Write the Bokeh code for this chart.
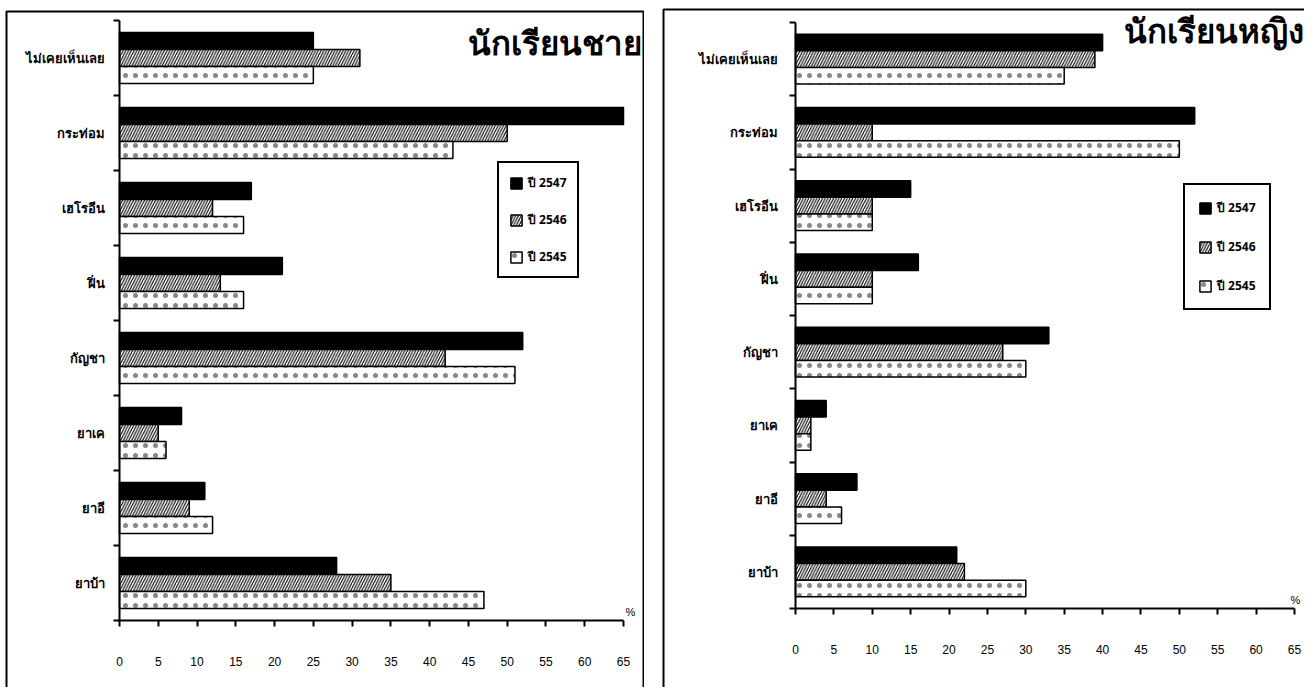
from bokeh.plotting import figure
from bokeh.models import (LinearAxis, FixedTicker, Legend, LegendItem, BoxAnnotation,
                          Label, ColumnDataSource, Range1d)
from bokeh.layouts import row
from bokeh.embed import file_html
from bokeh.resources import INLINE

# ---------------- data ----------------
categories = ["ไม่เคยเห็นเลย", "กระท่อม", "เฮโรอีน", "ฝิ่น", "กัญชา", "ยาเค", "ยาอี", "ยาบ้า"]
years = ["ปี 2547", "ปี 2546", "ปี 2545"]
male_2547 = [25, 65, 17, 21, 52, 8, 11, 28]
male_2546 = [31, 50, 12, 13, 42, 5, 9, 35]
male_2545 = [25, 43, 16, 16, 51, 6, 12, 47]
female_2547 = [40, 52, 15, 16, 33, 4, 8, 21]
female_2546 = [39, 10, 10, 10, 27, 2, 4, 22]
female_2545 = [35, 50, 10, 10, 30, 2, 6, 30]
x_ticks = [0, 5, 10, 15, 20, 25, 30, 35, 40, 45, 50, 55, 60, 65]
titles = ["นักเรียนชาย", "นักเรียนหญิง"]
unit_label = "%"

THAI = "Noto Sans"
NUM = "Liberation Sans"
H = 687


def make_panel(width, x0px, pxu, top_px, axis_px, title, title_xy, v47, v46, v45,
               border, legend_loc, legend_spacing, legend_padding, label_standoff, pct_xy):
    n = len(categories)
    cat_px = (axis_px - top_px) / n
    xs = -x0px / pxu
    xe = (width - x0px) / pxu
    ye = n + top_px / cat_px
    ys = -(H - axis_px) / cat_px
    p = figure(width=width, height=H, x_range=Range1d(xs, xe), y_range=Range1d(ys, ye),
               x_axis_type=None, y_axis_type=None, toolbar_location=None,
               output_backend="svg", outline_line_color=None,
               min_border=0, min_border_left=0, min_border_right=0,
               min_border_top=0, min_border_bottom=0)
    p.background_fill_color = "white"
    p.border_fill_color = "white"

    centers = [n - 0.5 - i for i in range(n)]
    bh = 0.227
    src = ColumnDataSource(dict(c=centers, v47=v47, v46=v46, v45=v45,
                                y47=[c + bh for c in centers], y46=centers,
                                y45=[c - bh for c in centers]))
    r47 = p.hbar(y="y47", left=0, right="v47", height=bh, source=src,
                 fill_color="black", line_color="black", line_width=1.5)
    r46 = p.hbar(y="y46", left=0, right="v46", height=bh, source=src,
                 fill_color="white", line_color="black", line_width=1.5,
                 hatch_pattern="/", hatch_color="black", hatch_scale=5.5, hatch_weight=1.1)
    r45 = p.hbar(y="y45", left=0, right="v45", height=bh, source=src,
                 fill_color="white", line_color="black", line_width=1.5,
                 hatch_pattern=".", hatch_color="#888888", hatch_scale=10, hatch_weight=0.8)

    # x axis
    xa = LinearAxis(fixed_location=0, ticker=FixedTicker(ticks=x_ticks), bounds=(0, 65))
    xa.axis_line_width = 2
    xa.major_tick_line_width = 2
    xa.major_tick_out = 6
    xa.major_tick_in = 0
    xa.minor_tick_out = 0
    xa.minor_tick_in = 0
    xa.major_label_standoff = 30
    xa.major_label_text_font = NUM
    xa.major_label_text_font_size = "12px"
    xa.major_label_text_color = "black"
    p.add_layout(xa, "below")

    # y axis: boundary ticks
    ya = LinearAxis(fixed_location=0, ticker=FixedTicker(ticks=list(range(n + 1))),
                    bounds=(0, n))
    ya.axis_line_width = 2
    ya.major_tick_line_width = 2
    ya.major_tick_out = 6
    ya.major_tick_in = 0
    ya.minor_tick_out = 0
    ya.minor_tick_in = 0
    ya.major_label_text_font_size = "0px"
    ya.major_label_overrides = {i: "" for i in range(n + 1)}
    p.add_layout(ya, "left")

    # y axis: category labels
    yl = LinearAxis(fixed_location=0, ticker=FixedTicker(ticks=centers))
    yl.axis_line_color = None
    yl.major_tick_line_color = None
    yl.minor_tick_line_color = None
    yl.major_label_overrides = {c: categories[i] for i, c in enumerate(centers)}
    yl.major_label_standoff = label_standoff
    yl.major_label_text_font = THAI
    yl.major_label_text_font_size = "13px"
    yl.major_label_text_font_style = "bold"
    yl.major_label_text_color = "black"
    p.add_layout(yl, "left")

    # panel border
    bl, br, bt = border
    p.add_layout(BoxAnnotation(left=(bl - x0px) / pxu, right=(br - x0px) / pxu,
                               top=n + (top_px - bt) / cat_px, bottom=ys - 1,
                               fill_alpha=0, line_color="black", line_alpha=1,
                               line_width=2))

    # title
    tx, ty = title_xy
    p.add_layout(Label(x=(tx - x0px) / pxu, y=n + (top_px - ty) / cat_px, text=title,
                       text_align="right", text_baseline="middle",
                       text_font=THAI, text_font_size="33px", text_font_style="bold",
                       text_color="black"))
    # unit
    ux, uy = pct_xy
    p.add_layout(Label(x=(ux - x0px) / pxu, y=uy / cat_px, text=unit_label,
                       text_align="center", text_baseline="middle",
                       text_font=NUM, text_font_size="11px", text_color="black"))

    legend = Legend(items=[LegendItem(label=years[0], renderers=[r47]),
                           LegendItem(label=years[1], renderers=[r46]),
                           LegendItem(label=years[2], renderers=[r45])],
                    location=legend_loc, orientation="vertical")
    legend.border_line_color = "black"
    legend.border_line_alpha = 1
    legend.border_line_width = 2
    legend.background_fill_color = "white"
    legend.background_fill_alpha = 1
    legend.label_text_font = THAI
    legend.label_text_font_size = "12px"
    legend.label_text_font_style = "bold"
    legend.label_text_color = "black"
    legend.glyph_width = 14
    legend.glyph_height = 14
    legend.label_height = 14
    legend.label_standoff = 5
    legend.spacing = legend_spacing
    legend.padding = legend_padding
    legend.margin = 0
    p.add_layout(legend, "center")
    return p


left = make_panel(width=644, x0px=119, pxu=7.754, top_px=20, axis_px=620,
                  title=titles[0], title_xy=(641, 42),
                  v47=male_2547, v46=male_2546, v45=male_2545,
                  border=(6, 643, 11), legend_loc=(497, 409), legend_spacing=18,
                  legend_padding=10, label_standoff=9, pct_xy=(630, 9))
right = make_panel(width=660, x0px=151, pxu=7.677, top_px=22, axis_px=608,
                   title=titles[1], title_xy=(659, 30),
                   v47=female_2547, v46=female_2546, v45=female_2545,
                   border=(19, 670, 9), legend_loc=(539, 377), legend_spacing=20,
                   legend_padding=13, label_standoff=12, pct_xy=(651, 9))

layout = row(left, right)
open("out.html", "w").write(file_html(layout, INLINE))
